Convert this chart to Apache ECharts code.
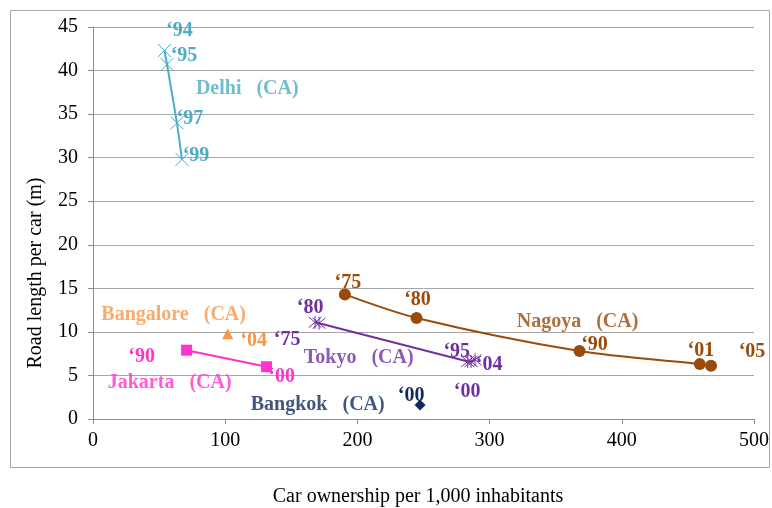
<!DOCTYPE html>
<html>
<head>
<meta charset="utf-8">
<script src="https://cdn.jsdelivr.net/npm/echarts@6/dist/echarts.min.js"></script>
<style>
  html, body { margin: 0; padding: 0; background: #fff; }
  #chart { width: 772px; height: 508px; }
</style>
</head>
<body>
<div id="chart"></div>
<script>
// Car ownership (per 1,000 inhabitants) vs road length per car (m), by city and year
const delhiYears = ["‘94", "‘95", "‘97", "‘99"];
const delhiCars = [54, 56, 63.5, 67.3];
const delhiRoad = [42.3, 40.7, 34.0, 29.8];

const nagoyaYears = ["‘75", "‘80", "‘90", "‘01", "‘05"];
const nagoyaCars = [190.5, 244.7, 368, 459, 467.5];
const nagoyaRoad = [14.3, 11.6, 7.8, 6.3, 6.1];

const tokyoYears = ["‘75", "‘80", "‘95", "‘00", "‘04"];
const tokyoCars = [168, 171, 283.5, 286, 289];
const tokyoRoad = [11.1, 11.0, 6.6, 6.6, 6.8];

const jakartaYears = ["‘90", "‘00"];
const jakartaCars = [70.8, 131.3];
const jakartaRoad = [7.9, 6.0];

const bangaloreYears = ["‘04"];
const bangaloreCars = [101.9];
const bangaloreRoad = [9.8];

const bangkokYears = ["‘00"];
const bangkokCars = [247.4];
const bangkokRoad = [1.6];

const cityNames = ["Delhi   (CA)", "Nagoya   (CA)", "Tokyo   (CA)", "Bangalore   (CA)", "Jakarta   (CA)", "Bangkok   (CA)"];

const xTicks = [0, 100, 200, 300, 400, 500];
const yTicks = [0, 5, 10, 15, 20, 25, 30, 35, 40, 45];

// styling: colours, label offsets (pixels) and city-name anchors (data units)
const colors = {
  delhi: "#4bacc6", nagoya: "#9a4b0a", tokyo: "#7030a0",
  jakarta: "#ff33cc", bangalore: "#f79646", bangkok: "#102a5c"
};
const delhiOffsets = [[15, -20], [17, -9], [13, -4], [14, -4]];
const nagoyaOffsets = [[3, -12], [1, -18], [15, -6], [1, -13], [41, -14]];
const tokyoOffsets = [[-28, 18], [-9, -15], [-11, -10], [-4, 30], [14, 5]];
const jakartaOffsets = [[-45, 7], [15, 10]];
const bangaloreOffsets = [[26, 7]];
const bangkokOffsets = [[-9, -9]];
const nameAnchors = [[116.7, 37.9], [366.5, 11.2], [201, 7.0], [61, 12.0], [58, 4.1], [170, 1.6]];
const nameColors = [colors.delhi, colors.nagoya, colors.tokyo, colors.bangalore, colors.jakarta, colors.bangkok];

const FONT = "'Liberation Serif', 'Times New Roman', serif";

const crossPath = "path://M0,0L10,10M10,0L0,10";
const starPath = "path://M0,0L10,10M10,0L0,10M5,-1L5,11";

function points(xs, ys, years, offsets, color) {
  return xs.map((x, i) => ({
    value: [x, ys[i]],
    label: {
      show: true,
      formatter: years[i],
      position: "inside",
      offset: offsets[i],
      color: color,
      fontFamily: FONT,
      fontWeight: "bold",
      fontSize: 20
    }
  }));
}

function citySeries(name, xs, ys, years, offsets, color, opts) {
  return Object.assign({
    name: name,
    type: "line",
    data: points(xs, ys, years, offsets, color),
    lineStyle: { color: color, width: 2 },
    itemStyle: { color: color },
    symbolSize: 11,
    z: 3
  }, opts);
}

const series = [
  citySeries("Delhi", delhiCars, delhiRoad, delhiYears, delhiOffsets, colors.delhi, {
    symbol: crossPath, symbolSize: 13,
    itemStyle: { color: "transparent", borderColor: colors.delhi, borderWidth: 1 }
  }),
  citySeries("Nagoya", nagoyaCars, nagoyaRoad, nagoyaYears, nagoyaOffsets, colors.nagoya, {
    symbol: "circle", symbolSize: 12, smooth: 0.3
  }),
  citySeries("Tokyo", tokyoCars, tokyoRoad, tokyoYears, tokyoOffsets, colors.tokyo, {
    symbol: starPath, symbolSize: 13,
    itemStyle: { color: "transparent", borderColor: colors.tokyo, borderWidth: 1 }
  }),
  citySeries("Jakarta", jakartaCars, jakartaRoad, jakartaYears, jakartaOffsets, colors.jakarta, {
    symbol: "rect", symbolSize: 11
  }),
  citySeries("Bangalore", bangaloreCars, bangaloreRoad, bangaloreYears, bangaloreOffsets, colors.bangalore, {
    symbol: "triangle", symbolSize: 11
  }),
  citySeries("Bangkok", bangkokCars, bangkokRoad, bangkokYears, bangkokOffsets, colors.bangkok, {
    symbol: "diamond", symbolSize: 11
  }),
  {
    name: "names",
    type: "scatter",
    symbolSize: 1,
    itemStyle: { color: "transparent" },
    silent: true,
    z: 4,
    data: cityNames.map((n, i) => ({
      value: nameAnchors[i],
      label: {
        show: true,
        formatter: n,
        position: "inside",
        color: nameColors[i],
        fontFamily: FONT,
        fontWeight: "bold",
        fontSize: 20
      }
    }))
  }
];

const chart = echarts.init(document.getElementById("chart"), null, { renderer: "canvas" });
chart.setOption({
  animation: false,
  backgroundColor: "#ffffff",
  grid: { left: 93, right: 15, top: 27, bottom: 89 },
  xAxis: {
    type: "value",
    min: xTicks[0], max: xTicks[xTicks.length - 1], interval: 100,
    axisLine: { show: true, onZero: false, lineStyle: { color: "#8c8c8c", width: 1 } },
    axisTick: { show: true, length: 5, lineStyle: { color: "#8c8c8c" } },
    axisLabel: { margin: 12, fontFamily: FONT, fontSize: 20, color: "#000",
                 formatter: v => xTicks.includes(v) ? String(v) : "" },
    splitLine: { show: false }
  },
  yAxis: {
    type: "value",
    min: yTicks[0], max: yTicks[yTicks.length - 1], interval: 5,
    axisLine: { show: true, lineStyle: { color: "#8c8c8c", width: 1 } },
    axisTick: { show: true, length: 5, lineStyle: { color: "#8c8c8c" } },
    axisLabel: { margin: 15, fontFamily: FONT, fontSize: 20, color: "#000",
                 formatter: v => yTicks.includes(v) ? String(v) : "" },
    splitLine: { show: true, lineStyle: { color: "#a6a6a6", width: 1 } }
  },
  graphic: [
    {
      type: "rect",
      shape: { x: 10.5, y: 10.5, width: 759, height: 457 },
      style: { fill: "none", stroke: "#a6a6a6", lineWidth: 1 },
      silent: true, z: -10
    },
    {
      type: "text",
      x: 36, y: 273,
      rotation: Math.PI / 2,
      style: {
        text: "Road length per car (m)",
        font: "20px " + FONT,
        fill: "#000",
        textAlign: "center",
        textVerticalAlign: "middle"
      },
      silent: true
    },
    {
      type: "text",
      x: 418, y: 497,
      style: {
        text: "Car ownership per 1,000 inhabitants",
        font: "20px " + FONT,
        fill: "#000",
        textAlign: "center",
        textVerticalAlign: "middle"
      },
      silent: true
    }
  ],
  series: series
});
</script>
</body>
</html>
